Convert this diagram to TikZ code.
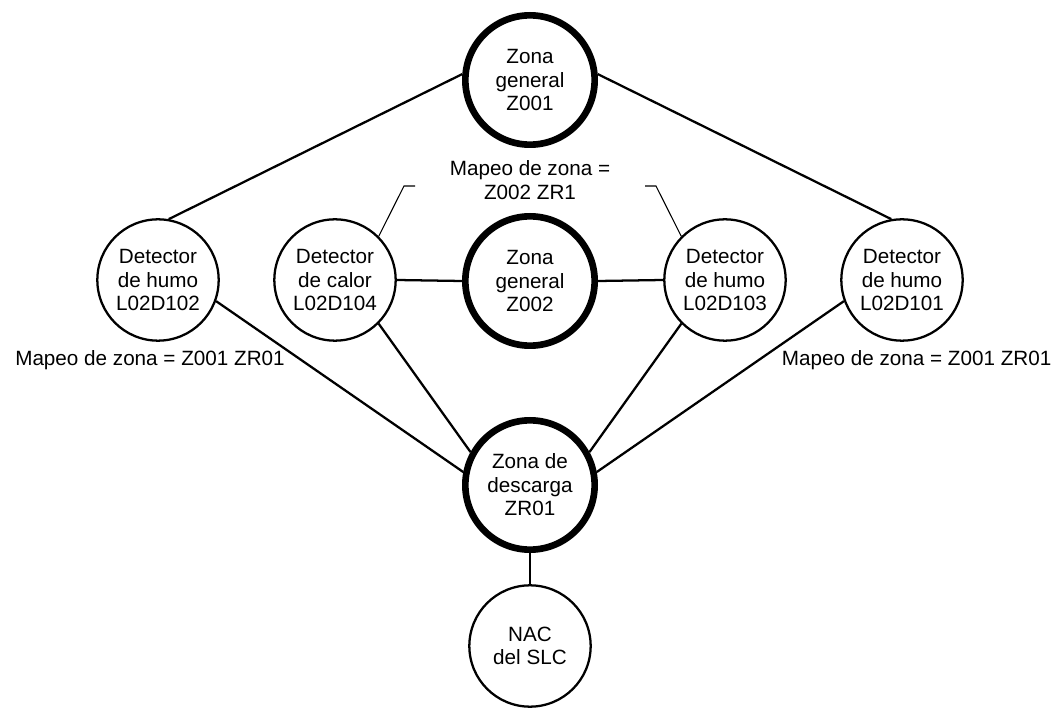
\documentclass[tikz,border=0pt]{standalone}
\usepackage{fontspec}
\setmainfont{Liberation Sans}
\usetikzlibrary{positioning, calc}
\newcommand{\nodefont}{\fontsize{15.5}{17.6}\selectfont}
\tikzset{
  zona/.style     = {draw, circle, line width=5pt,
                     minimum size=97pt, inner sep=0pt,
                     align=center, font=\nodefont},
  det/.style      = {draw, circle, line width=1.7pt,
                     minimum size=91pt, inner sep=0pt,
                     align=center, font=\nodefont},
  maplabel/.style = {align=center, font=\nodefont, inner sep=0pt},
  wire/.style     = {line width=1.7pt},
  bracket/.style  = {line width=0.8pt}
}

\begin{document}
\begin{tikzpicture}[x=0.75pt, y=-0.75pt]

  \useasboundingbox (0,0) rectangle (1058,709);

  %%──────────────────────────────────────────────────────────────────────────
  %%  ZONES (thick rings)
  %%──────────────────────────────────────────────────────────────────────────
  \node[zona] (Z001) at (530,80)  {Zona\\general\\Z001};
  \node[zona] (Z002) at (530,281) {Zona\\general\\Z002};
  \node[zona] (ZR01) at (530,485) {Zona de\\descarga\\ZR01};

  %%──────────────────────────────────────────────────────────────────────────
  %%  DEVICES
  %%──────────────────────────────────────────────────────────────────────────
  \node[det] (D102) at (158,280) {Detector\\de humo\\L02D102};
  \node[det] (D104) at (335,280) {Detector\\de calor\\L02D104};
  \node[det] (D103) at (725,280) {Detector\\de humo\\L02D103};
  \node[det] (D101) at (902,280) {Detector\\de humo\\L02D101};
  \node[det] (NAC)  at (530,646) {NAC\\del SLC};

  %%──────────────────────────────────────────────────────────────────────────
  %%  ZONE MAPPING NOTES
  %%──────────────────────────────────────────────────────────────────────────
  \node[maplabel, below=6pt of D102, xshift=-6pt] (mapL)
        {Mapeo de zona = Z001 ZR01};
  \node[maplabel, below=6pt of D101, xshift=11pt] (mapR)
        {Mapeo de zona = Z001 ZR01};
  \node[maplabel, above=10pt of Z002] (mapC)
        {Mapeo de zona =\\Z002 ZR1};

  %% bracket corners for the centre note
  \coordinate (bLa) at (415,186);
  \coordinate (bLb) at (404,186);
  \coordinate (bRa) at (645,186);
  \coordinate (bRb) at (656,186);

  \draw[bracket] (bLa) -- (bLb) -- (D104.45);
  \draw[bracket] (bRa) -- (bRb) -- (D103.135);

  %%──────────────────────────────────────────────────────────────────────────
  %%  WIRES
  %%──────────────────────────────────────────────────────────────────────────
  \draw[wire] (Z001.175) -- (D102.80);
  \draw[wire] (Z001.5)   -- (D101.100);

  \draw[wire] (D104.east) -- (Z002.west);
  \draw[wire] (Z002.east) -- (D103.west);

  \draw[wire] (D102.-20)  -- (ZR01.169);
  \draw[wire] (D104.-45)  -- (ZR01.151);
  \draw[wire] (D103.-135) -- (ZR01.29);
  \draw[wire] (D101.200)  -- (ZR01.11);

  \draw[wire] (ZR01.south) -- (NAC.north);

\end{tikzpicture}
\end{document}
